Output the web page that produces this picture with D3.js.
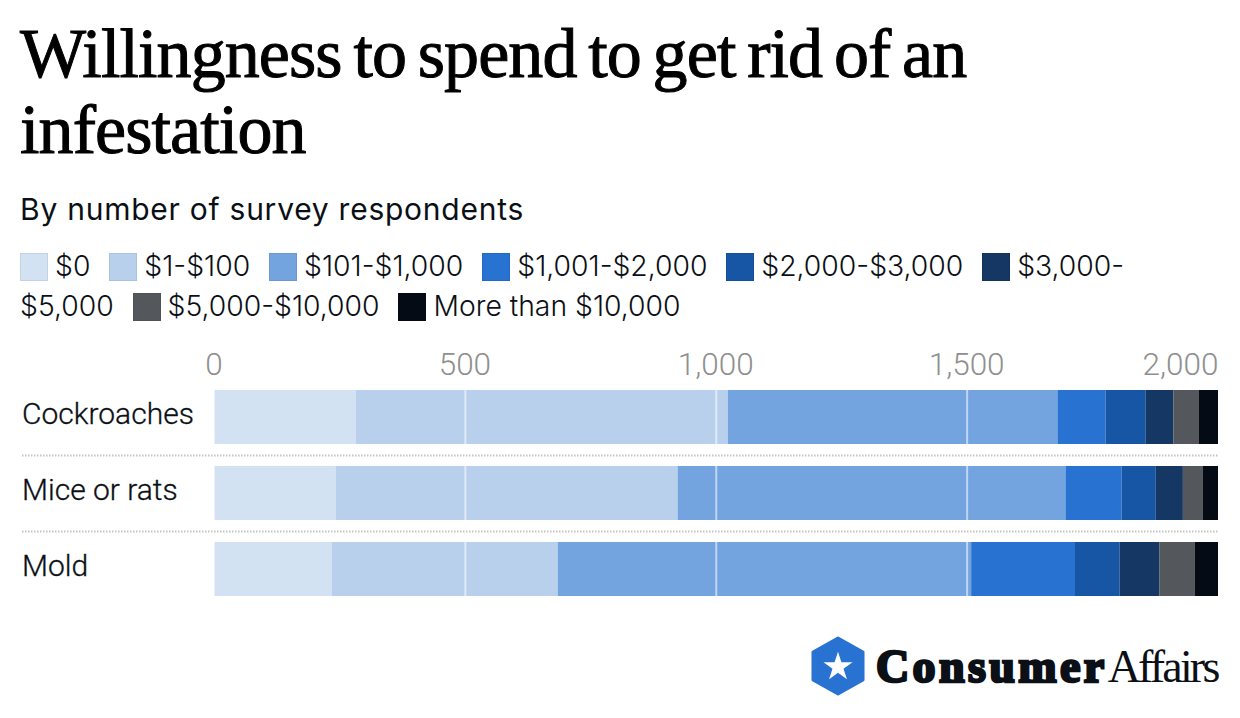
<!DOCTYPE html>
<html>
<head>
<meta charset="utf-8">
<title>Willingness to spend to get rid of an infestation</title>
<script src="https://cdn.jsdelivr.net/npm/d3@7/dist/d3.min.js"></script>
<style>
  html, body { margin: 0; padding: 0; background: #fff; }
  body { width: 1240px; height: 718px; position: relative; overflow: hidden; font-family: Inter, Roboto, sans-serif; color: #0b0f16; }
  #title { position: absolute; left: 20px; top: 16px; width: 1000px; font-family: "Liberation Serif", serif; font-size: 70px; line-height: 76px; letter-spacing: -0.9px; word-spacing: -4.9px; -webkit-text-stroke: 1px #000; color: #000; }
  #subtitle { position: absolute; left: 20px; top: 190px; font-size: 30px; line-height: 38px; font-family: Inter, sans-serif; font-weight: 400; letter-spacing: 0.75px; }
  #legend { position: absolute; left: 20px; top: 246px; width: 1200px; font-family: Inter, sans-serif; font-size: 28.3px; font-weight: 300; line-height: 40px; }
  #legend .swatch { display: inline-block; width: 28px; height: 28px; margin-right: 7px; vertical-align: -5px; border: 1px solid; box-sizing: border-box; }
  #legend .item { margin-right: 11px; }
  #chart { position: absolute; left: 0; top: 0; }
  .axis-x text { font-family: Roboto, sans-serif; font-weight: 300; font-size: 31.5px; fill: #8f8f8f; }
  .cat { font-family: Roboto, sans-serif; font-size: 30px; font-weight: 300; stroke: #0b0f16; stroke-width: 0.3px; fill: #0b0f16; }
  .logo-a { font-family: "Liberation Serif", serif; font-size: 46px; fill: #0b0f16; }
</style>
</head>
<body>
<svg id="chart" width="1240" height="718"></svg>
<div id="title">Willingness to spend to get rid of an infestation</div>
<div id="subtitle">By number of survey respondents</div>
<div id="legend"></div>
<script>
// data
const categories = ["Cockroaches", "Mice or rats", "Mold"];
const buckets = ["$0", "$1-$100", "$101-$1,000", "$1,001-$2,000", "$2,000-$3,000", "$3,000-$5,000", "$5,000-$10,000", "More than $10,000"];
const colors = ["#d3e2f3", "#b9d0ec", "#73a4e0", "#2873d1", "#1656a4", "#143763", "#54575b", "#050b14"];
const cockroaches = [282, 741, 657, 96, 80, 55, 51, 38];
const miceOrRats = [242, 681, 773, 112, 68, 54, 40, 30];
const mold = [234, 450, 824, 207, 89, 79, 71, 46];
const seriesValues = [cockroaches, miceOrRats, mold];
const xTicks = [0, 500, 1000, 1500, 2000];

const svg = d3.select("#chart");

const x = d3.scaleLinear().domain([0, 2000]).range([214.5, 1218]);
const y = d3.scaleBand().domain(categories).range([390, 596]).paddingInner(22 / 76).paddingOuter(0);

// legend, html so that it wraps like text does (wbr: chrome won't break "-$" by itself)
const legend = d3.select("#legend");
buckets.forEach((b, i) => {
    const item = legend.append("span").attr("class", "item");
    item.append("span").attr("class", "swatch")
        .style("background", colors[i])
        .style("border-color", d3.color(colors[i]).darker(0.2));
    item.append("span").html(b.replace("-", "-<wbr>"));
    legend.append("span").text(" ");
});

// stacked bars
const rows = categories.map((c, i) => {
    const row = { category: c };
    buckets.forEach((b, j) => { row[b] = seriesValues[i][j]; });
    return row;
});
const stacked = d3.stack().keys(buckets)(rows);

svg.selectAll("g.layer")
    .data(stacked)
    .enter().append("g")
    .attr("class", "layer")
    .attr("fill", (d, i) => colors[i])
    .selectAll("rect")
    .data(d => d)
    .enter().append("rect")
    .attr("x", d => x(d[0]))
    .attr("width", d => x(d[1]) - x(d[0]))
    .attr("y", d => y(d.data.category))
    .attr("height", y.bandwidth());

// white grid lines over the bars
svg.selectAll("line.grid")
    .data(xTicks.slice(1, -1))
    .enter().append("line")
    .attr("class", "grid")
    .attr("x1", d => x(d)).attr("x2", d => x(d))
    .attr("y1", y(categories[0])).attr("y2", y(categories[2]) + y.bandwidth())
    .attr("stroke", "#fff")
    .attr("stroke-opacity", 0.55)
    .attr("stroke-width", 2);

// hide the part of the grid lines between the bars
svg.selectAll("rect.gap")
    .data(categories.slice(0, -1))
    .enter().append("rect")
    .attr("class", "gap")
    .attr("x", x(0)).attr("width", x(2000) - x(0))
    .attr("y", d => y(d) + y.bandwidth())
    .attr("height", y.step() - y.bandwidth())
    .attr("fill", "#fff");

// dotted separators
svg.selectAll("line.sep")
    .data(categories.slice(0, -1))
    .enter().append("line")
    .attr("class", "sep")
    .attr("x1", 22).attr("x2", 1218)
    .attr("y1", d => y(d) + y.bandwidth() + 11.5)
    .attr("y2", d => y(d) + y.bandwidth() + 11.5)
    .attr("stroke", "#c4c4c0")
    .attr("stroke-width", 2)
    .attr("stroke-dasharray", "1.5 1.5");

// axis on top
const axis = svg.append("g")
    .attr("class", "axis-x")
    .attr("transform", "translate(0,375)")
    .call(d3.axisTop(x).tickValues(xTicks).tickSize(0).tickPadding(0).tickFormat(d3.format(",")));
axis.select(".domain").remove();
axis.selectAll("text").attr("dy", 0)
    .attr("dx", d => d === 2000 ? 0 : -1)
    .attr("text-anchor", d => d === 2000 ? "end" : "middle");

// category labels
svg.selectAll("text.cat")
    .data(categories)
    .enter().append("text")
    .attr("class", "cat")
    .attr("x", 22)
    .attr("y", d => y(d) + y.bandwidth() / 2 + 7)
    .text(d => d);

// logo
const logo = svg.append("g").attr("class", "logo");
logo.append("path")
    .attr("d", "M838 638 L863 652 L863 680 L838 694 L813 680 L813 652 Z")
    .attr("fill", "#2873d1")
    .attr("stroke", "#2873d1")
    .attr("stroke-width", 3)
    .attr("stroke-linejoin", "round");
logo.append("path")
    .attr("d", d3.symbol().type(d3.symbolStar).size(260)())
    .attr("transform", "translate(838,667)")
    .attr("fill", "#fff");
const logoText = logo.append("text")
    .attr("class", "logo-a")
    .attr("x", 876)
    .attr("y", 682);
logoText.append("tspan").text("Consumer")
    .attr("font-weight", 700)
    .attr("stroke", "#0b0f16")
    .attr("stroke-width", 2.6)
    .attr("letter-spacing", 3.4);
logoText.append("tspan").text("Affairs")
    .attr("letter-spacing", -2.8);
</script>
</body>
</html>
